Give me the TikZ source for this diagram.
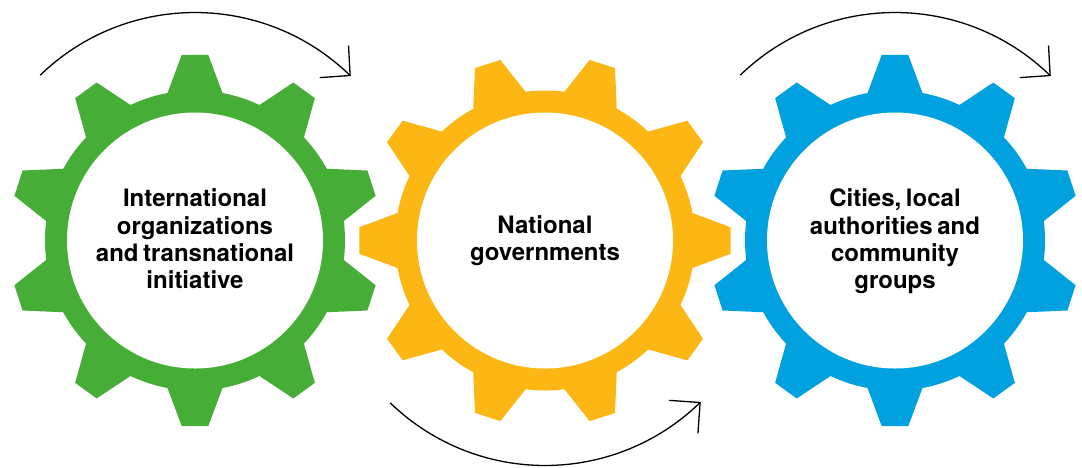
\documentclass[tikz,border=0pt]{standalone}
\usepackage{fontspec}
\setmainfont[WordSpace=0.7]{TeX Gyre Heros}
\usetikzlibrary{calc}
\definecolor{gGreen}{RGB}{70,174,55}
\definecolor{gYellow}{RGB}{253,183,20}
\definecolor{gBlue}{RGB}{0,161,222}
\newcommand\cogwheel[3]{%
  \begin{scope}[shift={(#1)}]
    \fill[#2] (0,0) circle[radius=150];
    \foreach \a in {0,36,...,324} {
      \fill[#2, rotate=\a+#3] (-30.3,-140) -- (-13.3,-185.6) -- (13.3,-185.6) -- (30.3,-140) -- cycle;
    }
    \fill[white] (0,0) circle[radius=128];
  \end{scope}}
\begin{document}
\begin{tikzpicture}[x=1pt,y=-1pt,
  lbl/.style={font=\bfseries\fontsize{24}{27.2}\selectfont, align=center, inner sep=0pt, text=black},
  rot/.style={line width=1.3pt, line cap=round, line join=round}]
\useasboundingbox (0,0) rectangle (1082,467);
\coordinate (g1) at (195,240.5);
\coordinate (g2) at (545,240.5);
\coordinate (g3) at (895,240.5);
\cogwheel{g1}{gGreen}{0}
\cogwheel{g2}{gYellow}{18}
\cogwheel{g3}{gBlue}{0}
\node[lbl] (t1) at (195,238.8) {International\\organizations\\and transnational\\initiative};
\node[lbl] (t2) at (545,241) {National\\governments};
\node[lbl] (t3) at (895,241.3) {Cities, local\\authorities and\\community\\groups};
% rotation arrows
\coordinate (a1) at (195,235);
\coordinate (a2) at (545,243);
\coordinate (a3) at (895,235);
\draw[rot] (a1) ++(-134:222.5) arc[start angle=-134, end angle=-45.8, radius=222.5] coordinate (tip1);
\draw[rot] ($(tip1)+(-93:29.5)$) -- (tip1) -- ($(tip1)+(176:30)$);
\draw[rot] (a2) ++(134:222.5) arc[start angle=134, end angle=45.8, radius=222.5] coordinate (tip2);
\draw[rot] ($(tip2)+(184:30.5)$) -- (tip2) -- ($(tip2)+(94:30.5)$);
\draw[rot] (a3) ++(-134:222.5) arc[start angle=-134, end angle=-45.8, radius=222.5] coordinate (tip3);
\draw[rot] ($(tip3)+(-93:29.5)$) -- (tip3) -- ($(tip3)+(176:30)$);
\end{tikzpicture}
\end{document}
